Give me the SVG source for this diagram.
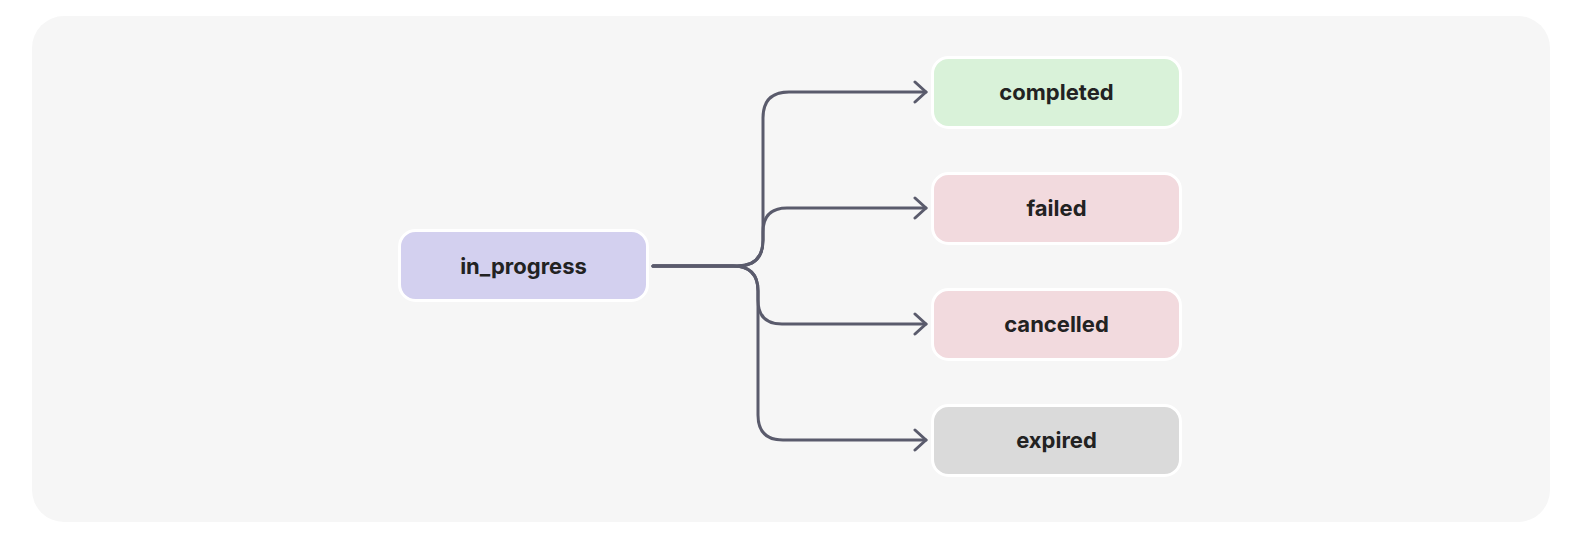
<svg xmlns="http://www.w3.org/2000/svg" width="1572" height="544" viewBox="0 0 1572 544">
<style>
.node rect{stroke:#ffffff;stroke-width:3}
.node text{font-family:Inter,"Liberation Sans",sans-serif;font-weight:700;font-size:22px;fill:#222222;text-anchor:middle;dominant-baseline:central}
.edge{fill:none;stroke:#5a5b6c;stroke-width:3;stroke-linecap:round;stroke-linejoin:round}
</style>
<defs>
<marker id="arr" viewBox="0 0 16 24" refX="14" refY="12" markerWidth="16" markerHeight="24" markerUnits="userSpaceOnUse" orient="auto">
<path d="M3,2 L14,12 L3,22" fill="none" stroke="#5a5b6c" stroke-width="3" stroke-linecap="round" stroke-linejoin="round"/>
</marker>
</defs>
<rect x="32" y="16" width="1518" height="506" rx="32" fill="#f6f6f6"/>
<g id="connectors">
<path class="edge" marker-end="url(#arr)" d="M653,266 H737 Q763,266 763,240 V118 Q763,92 789,92 H926"/>
<path class="edge" marker-end="url(#arr)" d="M653,266 H737 Q763,266 763,240 V232 Q763,208 787,208 H926"/>
<path class="edge" marker-end="url(#arr)" d="M653,266 H733 Q758,266 758,291 V300 Q758,324 782,324 H926"/>
<path class="edge" marker-end="url(#arr)" d="M653,266 H733 Q758,266 758,291 V415 Q758,440 783,440 H926"/>
</g>
<g id="in_progress" class="node"><rect x="399.5" y="230.5" width="248" height="70" rx="16" fill="#d3d0ef"/><text x="523.5" y="266">in_progress</text></g>
<g id="completed" class="node"><rect x="932.5" y="57.5" width="248" height="70" rx="16" fill="#d9f2d9"/><text x="1056.5" y="92">completed</text></g>
<g id="failed" class="node"><rect x="932.5" y="173.5" width="248" height="70" rx="16" fill="#f2dade"/><text x="1056.5" y="208">failed</text></g>
<g id="cancelled" class="node"><rect x="932.5" y="289.5" width="248" height="70" rx="16" fill="#f2dade"/><text x="1056.5" y="324">cancelled</text></g>
<g id="expired" class="node"><rect x="932.5" y="405.5" width="248" height="70" rx="16" fill="#dadada"/><text x="1056.5" y="440">expired</text></g>
</svg>
